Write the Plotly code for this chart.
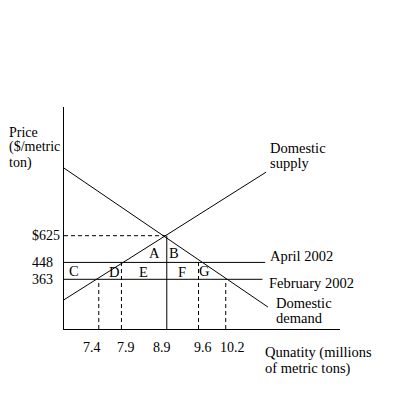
import numpy as np
import plotly.graph_objects as go

FONT = "Liberation Serif"

# ---- data ----
quantities = [7.4, 7.9, 8.9, 9.6, 10.2]
quantity_labels = ["7.4", "7.9", "8.9", "9.6", "10.2"]
guide_top_price = [363, 448, 625, 448, 363]      # price level each vertical guide drops from
price_levels = [625, 448, 363]
price_labels = ["$625", "448", "363"]
equilibrium_q = 8.9
equilibrium_p = 625
april_price = 448
feb_price = 363
supply_q = [6.63, 11.09]
supply_p = [281, 1380]
demand_q = [6.63, 11.13]
demand_p = [1453, 257]
april_end_q = 11.07
feb_end_q = 11.01
region_letters = ["A", "B", "C", "D", "E", "F", "G"]
region_q = [8.62, 9.06, 6.85, 7.74, 8.38, 9.24, 9.74]
region_p = [504, 504, 403, 400, 400, 400, 403]

# ---- axes ----
x_range = [6.633, 12.72]
y_log_range = [2.2910, 3.4923]
x0 = x_range[0]
y0 = 10 ** y_log_range[0]

line_style = dict(color="black", width=1)
dash_style = dict(color="black", width=1, dash="4px,3px")

fig = go.Figure()

def add_line(xs, ys, style):
    fig.add_trace(go.Scatter(x=xs, y=ys, mode="lines", line=style,
                             hoverinfo="skip", showlegend=False))

add_line(supply_q, supply_p, line_style)
add_line(demand_q, demand_p, line_style)
add_line([x0, april_end_q], [april_price, april_price], line_style)
add_line([x0, feb_end_q], [feb_price, feb_price], line_style)
add_line([x0, equilibrium_q], [equilibrium_p, equilibrium_p], dash_style)
for q, top in zip(quantities, guide_top_price):
    add_line([q, q], [y0, top], line_style if q == equilibrium_q else dash_style)

font = dict(family=FONT, size=14.5, color="black")
side = dict(family=FONT, size=14, color="black")
tickfont = dict(family=FONT, size=14, color="black")
ann = []
for lab, p in zip(price_labels, price_levels):
    ann.append(dict(x=-0.122, xref="paper", y=np.log10(p), yref="y", text=lab,
                    showarrow=False, xanchor="left", yanchor="middle", font=side))
# quantity labels sit slightly off their guides in the original drawing
tick_shift = [-6.5, 5, -4.5, 4.5, 6.5]
for lab, q, s in zip(quantity_labels, quantities, tick_shift):
    ann.append(dict(x=q, xref="x", y=-0.083, yref="paper", xshift=s, text=lab,
                    showarrow=False, xanchor="center", yanchor="middle", font=tickfont))
for lab, q, p in zip(region_letters, region_q, region_p):
    ann.append(dict(x=q, xref="x", y=np.log10(p), yref="y", text=lab,
                    showarrow=False, xanchor="center", yanchor="middle", font=font))

texts = [
    ("Price", -0.206, 0.887, side), ("($/metric", -0.206, 0.818, side),
    ("ton)", -0.206, 0.749, side),
    ("Domestic", 0.739, 0.815, font), ("supply", 0.739, 0.748, font),
    ("April 2002", 0.739, 0.329, font), ("February 2002", 0.735, 0.207, font),
    ("Domestic", 0.761, 0.117, font), ("demand", 0.761, 0.0495, font),
    ("Qunatity (millions", 0.721, -0.108, font), ("of metric tons)", 0.721, -0.176, font),
]
for t, x, y, f in texts:
    ann.append(dict(x=x, xref="paper", y=y, yref="paper", text=t, showarrow=False,
                    xanchor="left", yanchor="middle", font=f))

# page body has an 8px margin; plot area lands at x 64..340, y 107..329 on screen
fig.update_layout(
    width=392, height=392,
    margin=dict(l=56, r=60, t=99, b=71),
    paper_bgcolor="white", plot_bgcolor="white",
    annotations=ann,
    xaxis=dict(range=x_range, showgrid=False, zeroline=False, showline=True,
               linecolor="black", linewidth=1, ticks="", showticklabels=False),
    yaxis=dict(type="log", range=y_log_range, showgrid=False, zeroline=False,
               showline=True, linecolor="black", linewidth=1, ticks="",
               showticklabels=False),
)

fig.write_html("out.html")
